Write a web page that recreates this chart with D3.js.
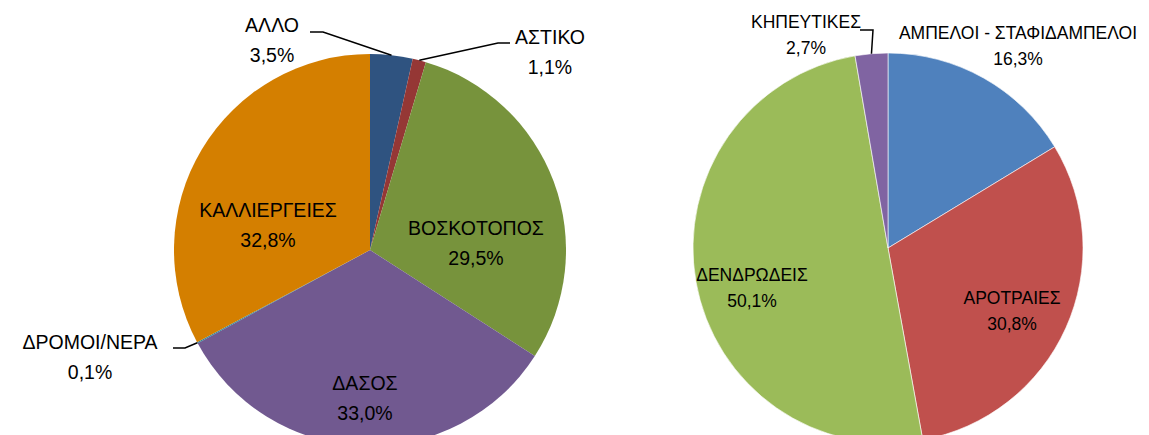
<!DOCTYPE html>
<html>
<head>
<meta charset="utf-8">
<script src="https://cdn.jsdelivr.net/npm/d3@7"></script>
<style>
  body { margin: 0; background: #fff; }
  svg text { font-family: "Liberation Sans", Arial, sans-serif; fill: #000; }
</style>
</head>
<body>
<div id="chart"></div>
<script>
// land use (left pie)
const leftNames = ["ΑΛΛΟ", "ΑΣΤΙΚΟ", "ΒΟΣΚΟΤΟΠΟΣ", "ΔΑΣΟΣ", "ΔΡΟΜΟΙ/ΝΕΡΑ", "ΚΑΛΛΙΕΡΓΕΙΕΣ"];
const leftValues = [3.5, 1.1, 29.5, 33.0, 0.1, 32.8];
const leftColors = ["#2f5380", "#953735", "#77933c", "#715990", "#31859c", "#d47f00"];

// crops (right pie)
const rightNames = ["ΑΜΠΕΛΟΙ - ΣΤΑΦΙΔΑΜΠΕΛΟΙ", "ΑΡΟΤΡΑΙΕΣ", "ΔΕΝΔΡΩΔΕΙΣ", "ΚΗΠΕΥΤΙΚΕΣ"];
const rightValues = [16.3, 30.8, 50.1, 2.7];
const rightColors = ["#4f81bd", "#c0504d", "#9bbb59", "#8064a2"];

const W = 1149, H = 435;
const svg = d3.select("#chart").append("svg")
  .attr("width", W).attr("height", H);

const fmt = v => d3.format(".1f")(v).replace(".", ",") + "%";

// label spots relative to the pie centre (baseline of first line) + leader elbows
const leftLabels = [
  {x: -98, y: -218, line: [[-60, -218], [-47, -218]]},
  {x: 180, y: -206, line: [[140, -207], [128, -207]]},
  {x: 106, y: -15},
  {x: -5, y: 140},
  {x: -280, y: 99, line: [[-197, 98], [-185, 98]]},
  {x: -102, y: -33}
];
const rightLabels = [
  {x: 130, y: -209},
  {x: 124, y: 56},
  {x: -136, y: 33},
  {x: -82, y: -220, line: [[-28, -218], [-15, -218]]}
];

function drawPie(cx, cy, r, names, values, colors, labels, fs, lh, stroke) {
  const g = svg.append("g").attr("transform", `translate(${cx},${cy})`);
  const pie = d3.pie().sort(null).value(d => d)(values);
  const arc = d3.arc().innerRadius(0).outerRadius(r);

  g.selectAll("path.slice")
    .data(pie)
    .join("path")
      .attr("class", "slice")
      .attr("d", arc)
      .attr("fill", (d, i) => colors[i])
      .attr("stroke", stroke)
      .attr("stroke-width", stroke === "none" ? 0 : 0.6);

  pie.forEach((d, i) => {
    const lab = labels[i];
    if (lab.line) {
      // elbow from the label to the slice's outer edge
      const a = (d.startAngle + d.endAngle) / 2;
      const edge = [r * Math.sin(a), -r * Math.cos(a)];
      g.append("path")
        .attr("d", d3.line()([lab.line[0], lab.line[1], edge]))
        .attr("fill", "none")
        .attr("stroke", "#000")
        .attr("stroke-width", 1.5);
    }
    const t = g.append("text")
      .attr("text-anchor", "middle")
      .attr("font-size", fs);
    t.append("tspan").attr("x", lab.x).attr("y", lab.y).text(names[i]);
    t.append("tspan").attr("x", lab.x).attr("y", lab.y + lh).text(fmt(values[i]));
  });
}

drawPie(370, 250, 196, leftNames, leftValues, leftColors, leftLabels, 19.5, 30, "none");
drawPie(888, 248, 195, rightNames, rightValues, rightColors, rightLabels, 17.5, 26, "#fff");
</script>
</body>
</html>
